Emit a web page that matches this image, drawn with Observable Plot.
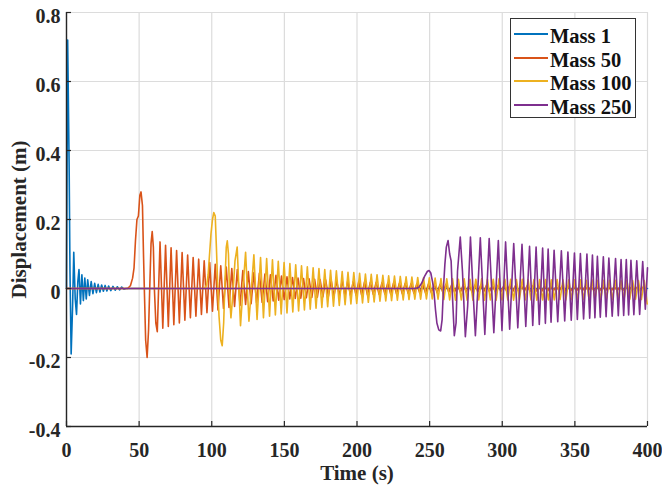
<!DOCTYPE html>
<html><head><meta charset="utf-8">
<script src="https://cdn.jsdelivr.net/npm/d3@7"></script>
<script src="https://cdn.jsdelivr.net/npm/@observablehq/plot@0.6"></script>
<style>
body{margin:0;background:#fff}
#wrap{position:relative;width:662px;height:488px}
#legend{position:absolute;left:510px;top:18px;width:124px;height:98px;border:1.5px solid #333;background:#fff;font:bold 20.5px 'Liberation Serif','Times New Roman',serif;color:#111}
#legend .sw{position:absolute;left:3px;width:34px;height:2px}
#legend .lb{position:absolute;left:39px;line-height:22px;white-space:nowrap}
</style></head>
<body><div id="wrap"></div>
<script>
const seriesNames = ["Mass 1", "Mass 50", "Mass 100", "Mass 250"];
const seriesColors = ["#0072BD", "#D95319", "#EDB120", "#7E2F8E"];
const xTicks = [0, 50, 100, 150, 200, 250, 300, 350, 400];
const yTicks = [-0.4, -0.2, 0, 0.2, 0.4, 0.6, 0.8];

const mass1 = [[0,0],[0.8,0.72],[1.8,0.36],[2.4,0.05],[3.2,-0.19],[4.2,-0.05],[5.0,0.105],[6.0,-0.03],[6.9,-0.075],[7.8,0.02],[8.6,0.055],[9.6,-0.045],[10.6,0.04],[11.6,-0.035],[12.6,0.03],[13.6,-0.03],[14.6,0.025],[15.8,-0.02],[17,0.02],[18.2,-0.015],[19.4,0.015],[20.6,-0.012],[21.8,0.012],[23,-0.01],[24.2,0.01],[25.4,-0.008],[26.6,0.009],[27.8,-0.007],[29,0.007],[30.5,-0.006],[32,0.006],[33.5,-0.005],[35,0.005],[36.5,-0.004],[38,0.004],[39.5,-0.002],[41,0],[400,0]];

const mass50 = [[0,0],[42,0],[44,0.008],[45.5,0.03],[46.5,0.06],[47.5,0.14],[48.5,0.2],[49.5,0.21],[50.5,0.27],[51.3,0.28],[52.3,0.24],[53,0.1],[53.7,-0.02],[54.5,-0.15],[55.5,-0.2],[56.5,-0.12],[57.3,0.0],[58.2,0.13],[59,0.165],[59.8,0.12],[60.5,0.0],[61.5,-0.1],
[62.5,-0.125],[64.4,0.135],[66.3,-0.115],[68.2,0.125],[70.1,-0.11],[72,0.118],[73.9,-0.105],[75.8,0.11],[77.7,-0.1],[79.6,0.104],[81.5,-0.092],[83.4,0.097],[85.3,-0.085],[87.2,0.09],[89.1,-0.08],[91,0.085],[92.9,-0.075],[94.8,0.08],[96.7,-0.07],[98.6,0.075],[100.5,-0.066],[102.4,0.07],[104.3,-0.062],[106.2,0.066],[108.1,-0.058],[110,0.062],[111.9,-0.055],[113.8,0.058],[115.7,-0.052],[117.6,0.055],[119.5,-0.049],[121.4,0.052],[123.3,-0.046],[125.2,0.049],[127.1,-0.044],[129,0.046],[130.9,-0.042],[132.8,0.044],[134.7,-0.04],[136.6,0.042],[138.5,-0.038],[140.4,0.04],[142.3,-0.036],[144.2,0.038],[146.1,-0.034],[148,0.036],[149.9,-0.032],[151.8,0.034],[153.7,-0.03],[155.6,0.032],[157.5,-0.029],[159.4,0.03],[161.3,-0.028],[163.2,0.029],[165.1,-0.027],[167,0.028],[168.9,-0.026],[170.8,0.027],[172.7,-0.025],[174.6,0.026],[176.5,-0.024],[178.4,0.025],[180.3,-0.023],[182.2,0.024],[184.1,-0.022],[186,0.023],[187.9,-0.021],[189.8,0.022],[191.7,-0.02],[193.6,0.021],[195.5,-0.02],[197.4,0.02],[199.3,-0.019],[201.2,0.02],
[203.2,-0.019],[205.2,0.019],[207.2,-0.018],[209.2,0.018],[211.2,-0.017],[213.2,0.018],[215.2,-0.017],[217.2,0.017],[219.2,-0.016],[221.2,0.016],[223.2,-0.016],[225.2,0.016],[227.2,-0.015],[229.2,0.015],[231.2,-0.015],[233.2,0.015],[235.2,-0.014],[237.2,0.014],[239.2,-0.014],[241.2,0.014],[243.2,-0.013],[245.2,0.013],[247.2,-0.013],[249.2,0.013],[251.2,-0.012],[253.2,0.012],[255.2,-0.012],[257.2,0.012],[259.2,-0.012],[261.2,0.012],[263.2,-0.011],[265.2,0.011],[267.2,-0.011],[269.2,0.011],[271.2,-0.011],[273.2,0.011],[275.2,-0.01],[277.2,0.01],[279.2,-0.01],[281.2,0.01],[283.2,-0.01],[285.2,0.01],[287.2,-0.01],[289.2,0.01],[291.2,-0.009],[293.2,0.009],[295.2,-0.009],[297.2,0.009],[299.2,-0.009],[301.2,0.009],[303.2,-0.009],[305.2,0.009],[307.2,-0.009],[309.2,0.009],[311.2,-0.008],[313.2,0.008],[315.2,-0.008],[317.2,0.008],[319.2,-0.008],[321.2,0.008],[323.2,-0.008],[325.2,0.008],[327.2,-0.008],[329.2,0.008],[331.2,-0.008],[333.2,0.008],[335.2,-0.007],[337.2,0.007],[339.2,-0.007],[341.2,0.007],[343.2,-0.007],[345.2,0.007],[347.2,-0.007],[349.2,0.007],[351.2,-0.007],[353.2,0.007],[355.2,-0.007],[357.2,0.007],[359.2,-0.006],[361.2,0.006],[363.2,-0.006],[365.2,0.006],[367.2,-0.006],[369.2,0.006],[371.2,-0.006],[373.2,0.006],[375.2,-0.006],[377.2,0.006],[379.2,-0.006],[381.2,0.006],[383.2,-0.005],[385.2,0.005],[387.2,-0.005],[389.2,0.005],[391.2,-0.005],[393.2,0.005],[395.2,-0.005],[397.2,0.005],[399.2,-0.005]];

const mass100 = [[0,0],[95,0],[96.5,0.01],[97.5,0.04],[98.5,0.1],[99.5,0.16],[100.5,0.2],[101.4,0.22],[102.4,0.21],[103.2,0.12],[104,0.02],[105,-0.08],[106.2,-0.15],[107.2,-0.166],[108.2,-0.1],[109.2,0.03],[110,0.12],[110.7,0.138],[111.5,0.1],[112.3,-0.02],[113.2,-0.085],[114.5,-0.02],[116,0.08],[117.5,0.12],[118.7,0.0],[119.8,-0.108],[121.5,0.0],[123.3,0.105],[124.5,0.0],[125.6,-0.095],[127.3,0.0],[129,0.098],[131.2,-0.09],[133.6,0.09],[135.6,-0.085],[137.8,0.087],[139.8,-0.08],[141.8,0.083],[143.8,-0.077],[145.8,0.079],[147.8,-0.074],[149.8,0.075],[151.8,-0.071],[153.8,0.072],[155.8,-0.068],[157.8,0.069],[159.8,-0.065],[161.8,0.066],[163.8,-0.062],[165.8,0.063],[167.8,-0.06],[169.8,0.06],[171.8,-0.057],[173.8,0.058],[175.8,-0.055],[177.8,0.055],[179.8,-0.053],[181.8,0.053],[183.8,-0.051],[185.8,0.051],[187.8,-0.049],[189.8,0.049],[191.8,-0.047],[193.8,0.047],[195.8,-0.045],[197.8,0.046],[199.8,-0.043],[201.8,0.044],[203.8,-0.042],[205.8,0.042],[207.8,-0.04],[209.8,0.041],[211.8,-0.039],[213.8,0.04],[215.8,-0.037],[217.8,0.038],[219.8,-0.036],[221.8,0.037],[223.8,-0.035],[225.8,0.036],[227.8,-0.034],[229.8,0.035],[231.8,-0.033],[233.8,0.034],[235.8,-0.032],[237.8,0.033],[239.8,-0.031],[241.8,0.032],[243.8,-0.031],[245.8,0.031],[247.8,-0.03],[249.8,0.031],[251.8,-0.03],[253.8,0.03],[255.8,-0.031],[257.8,0.029],[259.8,-0.032],[261.8,0.028],[263.8,-0.033],[265.8,0.028],[267.8,-0.034],[269.8,0.027],[271.8,-0.033],[273.8,0.028],[275.8,-0.034],[277.8,0.027],[279.8,-0.034],[281.8,0.027],[283.8,-0.033],[285.8,0.028],[287.8,-0.034],[289.8,0.027],[291.8,-0.033],[293.8,0.027],[295.8,-0.034],[297.8,0.028],[299.8,-0.033],[301.8,0.027],[303.8,-0.033],[305.8,0.027],[307.8,-0.034],[309.8,0.026],[311.8,-0.033],[313.8,0.027],[315.8,-0.033],[317.8,0.026],[319.8,-0.033],[321.8,0.026],[323.8,-0.034],[325.8,0.026],[327.8,-0.033],[329.8,0.026],[331.8,-0.033],[333.8,0.025],[335.8,-0.033],[337.8,0.026],[339.8,-0.032],[341.8,0.025],[343.8,-0.033],[345.8,0.025],[347.8,-0.032],[349.8,0.025],[351.8,-0.033],[353.8,0.025],[355.8,-0.032],[357.8,0.024],[359.8,-0.032],[361.8,0.025],[363.8,-0.032],[365.8,0.024],[367.8,-0.032],[369.8,0.024],[371.8,-0.031],[373.8,0.024],[375.8,-0.032],[377.8,0.024],[379.8,-0.031],[381.8,0.023],[383.8,-0.032],[385.8,0.024],[387.8,-0.031],[389.8,0.023],[391.8,-0.031],[393.8,0.023],[395.8,-0.032],[397.8,0.023],[399.8,-0.045]];

const mass250 = [[0,0],[240,0],[242.5,0.003],[244.5,0.015],[246.5,0.035],[248.5,0.05],[249.6,0.052],[250.8,0.045],[252,0.02],[253,-0.01],[254,-0.06],[255,-0.1],[256.3,-0.12],[257.6,-0.123],[258.6,-0.09],[259.5,0.0],[260.5,0.07],[261.5,0.12],[262.7,0.139],[263.8,0.1],[264.8,0.08],[265.8,-0.03],[267,-0.137],[268.2,-0.1],[269.2,0.05],[271.1,0.149],[272.6,0.05],[274.6,-0.14],[276.2,-0.05],[278.1,0.149],[279.8,0.0],[281.5,-0.137],[283.2,0.0],[284.9,0.147],[288,-0.133],[291,0.145],[294.2,-0.128],[297.3,0.139],[299.8,-0.122],[302.3,0.135],[305.1,-0.118],[307.9,0.13],[310.7,-0.114],[313.6,0.128],[316.2,-0.11],[318.8,0.122],[321,-0.107],[323.3,0.12],[325.5,-0.104],[327.8,0.117],[329.7,-0.101],[331.6,0.114],[333.6,-0.098],[335.7,0.111],[338.2,-0.096],[340.7,0.109],[343,-0.094],[345.2,0.106],[347.5,-0.092],[349.7,0.103],[351.7,-0.09],[353.8,0.101],[356,-0.088],[358.3,0.1],[360.2,-0.086],[362.1,0.097],[363.8,-0.085],[365.5,0.093],[367.5,-0.083],[369.6,0.092],[371.5,-0.082],[373.4,0.088],[375.7,-0.08],[378,0.087],[379.9,-0.079],[381.8,0.084],[383.6,-0.078],[385.4,0.084],[387,-0.077],[388.6,0.082],[390.6,-0.076],[392.6,0.08],[394.6,-0.075],[396.7,0.078],[398.5,-0.06],[400,0.06]];

const allSeries = [mass1, mass50, mass100, mass250];

const W = 662, H = 488, mL = 66, mR = 15, mT = 12, mB = 62;
const innerW = W - mL - mR, innerH = H - mT - mB;
const xDom = [0, 400], yDom = [-0.4, 0.8];
const tickPx = 5;
const xTickLen = (yDom[1] - yDom[0]) * tickPx / innerH;
const yTickLen = (xDom[1] - xDom[0]) * tickPx / innerW;
const fontFam = "'Liberation Serif','Times New Roman',serif";
const axisColor = "#262626";

const plot = Plot.plot({
  width: W, height: H,
  marginLeft: mL, marginRight: mR, marginTop: mT, marginBottom: mB,
  style: {fontFamily: fontFam, fontSize: "20px", fontWeight: "bold", color: axisColor, background: "#fff", overflow: "visible"},
  x: {domain: xDom, label: null},
  y: {domain: yDom, label: null},
  marks: [
    Plot.gridX(xTicks, {stroke: "#dcdcdc", strokeOpacity: 1, strokeWidth: 1.2}),
    Plot.gridY(yTicks, {stroke: "#dcdcdc", strokeOpacity: 1, strokeWidth: 1.2}),
    ...allSeries.map((s, i) => Plot.line(s, {x: d => d[0], y: d => d[1], stroke: seriesColors[i], strokeWidth: 1.6})),
    Plot.ruleX(xTicks, {x: d => d, y1: yDom[0], y2: yDom[0] + xTickLen, stroke: axisColor, strokeWidth: 1.2}),
    Plot.ruleY(yTicks, {y: d => d, x1: xDom[0], x2: xDom[0] + yTickLen, stroke: axisColor, strokeWidth: 1.2}),
    Plot.ruleX([xDom[0]], {stroke: axisColor, strokeWidth: 1.4}),
    Plot.ruleY([yDom[0]], {stroke: axisColor, strokeWidth: 1.4}),
    Plot.axisX(xTicks, {tickSize: 0, tickPadding: 16, tickFormat: d => String(d), label: null, fontSize: 20, fontWeight: "bold", fill: axisColor}),
    Plot.axisY(yTicks, {tickSize: 0, tickPadding: 6, tickFormat: d => String(d), label: null, dy: 4, fontSize: 20, fontWeight: "bold", fill: axisColor}),
    Plot.text(["Time (s)"], {frameAnchor: "bottom", dy: 47, lineAnchor: "middle", textAnchor: "middle", fontSize: 21, fontWeight: "bold", fontFamily: fontFam, fill: axisColor}),
    Plot.text(["Displacement (m)"], {frameAnchor: "left", dx: -47, rotate: -90, textAnchor: "middle", lineAnchor: "middle", fontSize: 21, fontWeight: "bold", fontFamily: fontFam, fill: axisColor})
  ]
});

const wrap = document.getElementById("wrap");
wrap.appendChild(plot);

const legend = document.createElement("div");
legend.id = "legend";
seriesNames.forEach((name, i) => {
  const sw = document.createElement("div");
  sw.className = "sw";
  sw.style.top = (14 + i * 23.7) + "px";
  sw.style.background = seriesColors[i];
  legend.appendChild(sw);
  const lb = document.createElement("div");
  lb.className = "lb";
  lb.style.top = (6 + i * 23.7) + "px";
  lb.textContent = name;
  legend.appendChild(lb);
});
wrap.appendChild(legend);
</script>
</body></html>
